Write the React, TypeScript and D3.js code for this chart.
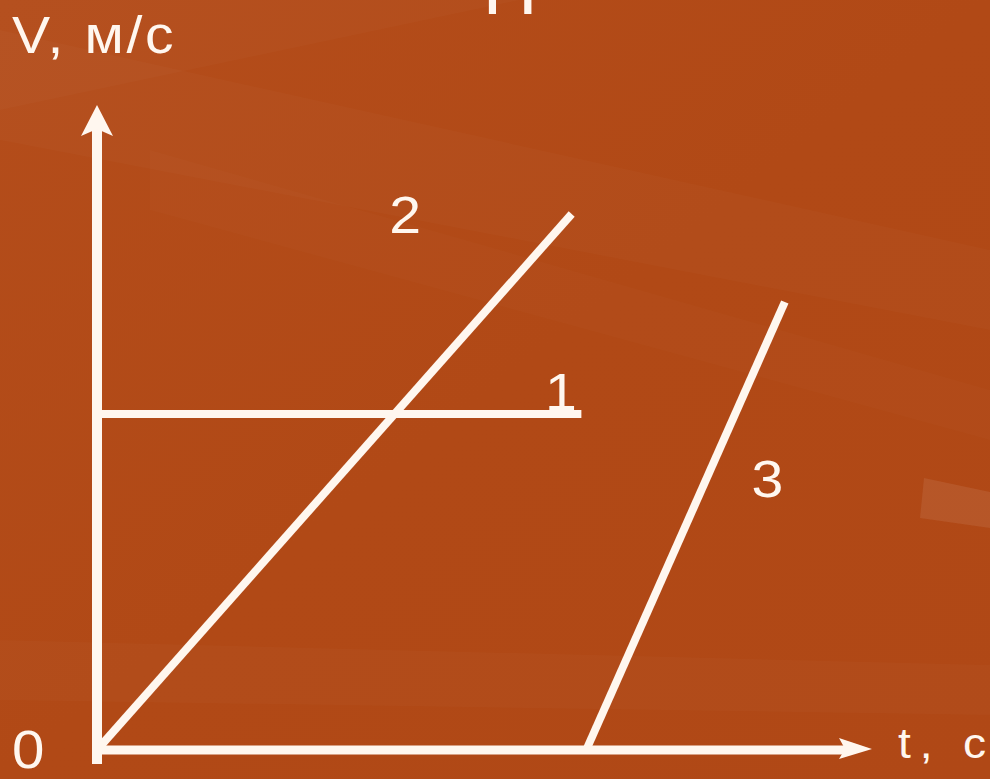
import React from "react";
import * as d3 from "d3";

// graph of v(t) for three motions (no numbers on the axes in the original)
const seriesNames = ["1", "2", "3"];
const series1 = [{ t: 0, v: 4.2 }, { t: 5.0, v: 4.2 }];
const series2 = [{ t: 0, v: 0 }, { t: 4.9, v: 6.7 }];
const series3 = [{ t: 5.05, v: 0 }, { t: 7.1, v: 5.6 }];
// where the numbers stand, in chart units
const labelPoints = [{ t: 4.79, v: 4.25 }, { t: 3.18, v: 6.46 }, { t: 6.92, v: 3.16 }];
const axisTitles = { y: "V, м/с", x: "t, c", origin: "0" };

const W = 990;
const H = 779;
const ink = "#fff7ef";
const font = "'Liberation Sans', Arial, sans-serif";
const stretch = 1.1; // the slide text is a bit wide

function Label(props: { x: number; y: number; size: number; anchor?: string; len?: number; children: React.ReactNode }) {
  return (
    <text
      transform={`translate(${props.x},${props.y}) scale(${stretch},1)`}
      textAnchor={props.anchor || "start"}
      fontFamily={font}
      fontSize={props.size}
      fill={ink}
      textLength={props.len}
      lengthAdjust={props.len ? "spacing" : undefined}
    >
      {props.children}
    </text>
  );
}

export default function App() {
  const x = d3.scaleLinear().domain([0, 8]).range([97, 872]);
  const y = d3.scaleLinear().domain([0, 8]).range([750, 110]);

  const line = d3
    .line<{ t: number; v: number }>()
    .x((d) => x(d.t))
    .y((d) => y(d.v));

  const all = [series1, series2, series3];

  const x0 = x(0);
  const y0 = y(0);
  const yTip = 105;
  const xTip = x.range()[1];

  return (
    <svg width={W} height={H} style={{ position: "absolute", left: 0, top: 0 }}>
      <defs>
        <linearGradient id="bg" x1="0" y1="0" x2="1" y2="1">
          <stop offset="0" stopColor="#b44d1b" />
          <stop offset="0.5" stopColor="#b14916" />
          <stop offset="1" stopColor="#b04816" />
        </linearGradient>
      </defs>
      <rect width={W} height={H} fill="url(#bg)" />
      {/* soft light streaks of the slide background */}
      <path d="M0,30 L990,250 L990,330 L0,140 Z" fill="#ffffff" opacity={0.018} />
      <path d="M150,150 L990,390 L990,440 L150,210 Z" fill="#ffffff" opacity={0.015} />
      <path d="M0,0 L520,0 L0,110 Z" fill="#ffffff" opacity={0.02} />
      <path d="M0,640 L990,665 L990,715 L0,700 Z" fill="#ffffff" opacity={0.02} />
      <path d="M924,478 L990,492 L990,528 L920,518 Z" fill="#ffffff" opacity={0.08} />

      {/* cut title above */}
      <text x={510} y={14} textAnchor="middle" fontFamily={font} fontSize={76} fill={ink}>
        П
      </text>

      {/* axes */}
      <line x1={x0} y1={y0 + 14} x2={x0} y2={yTip + 20} stroke={ink} strokeWidth={10} />
      <path
        d={`M${x0},${yTip} L${x0 + 16},${yTip + 31} L${x0},${yTip + 24} L${x0 - 16},${yTip + 31} Z`}
        fill={ink}
      />
      <line x1={x0 - 5} y1={y0} x2={xTip - 24} y2={y0} stroke={ink} strokeWidth={9} />
      <path
        d={`M${xTip},${y0 - 1} L${xTip - 33},${y0 - 12} L${xTip - 27},${y0 - 1} L${xTip - 33},${y0 + 9} Z`}
        fill={ink}
      />

      {/* series */}
      {all.map((s, i) => (
        <path key={i} d={line(s) || ""} fill="none" stroke={ink} strokeWidth={8} />
      ))}

      {seriesNames.map((n, i) => (
        <Label key={n} x={x(labelPoints[i].t)} y={y(labelPoints[i].v)} size={52} anchor="middle">
          {n}
        </Label>
      ))}

      <Label x={12} y={53} size={52} len={147}>
        {axisTitles.y}
      </Label>
      <Label x={12} y={768} size={53}>
        {axisTitles.origin}
      </Label>
      <Label x={898} y={758} size={42} len={80}>
        {axisTitles.x}
      </Label>
    </svg>
  );
}
